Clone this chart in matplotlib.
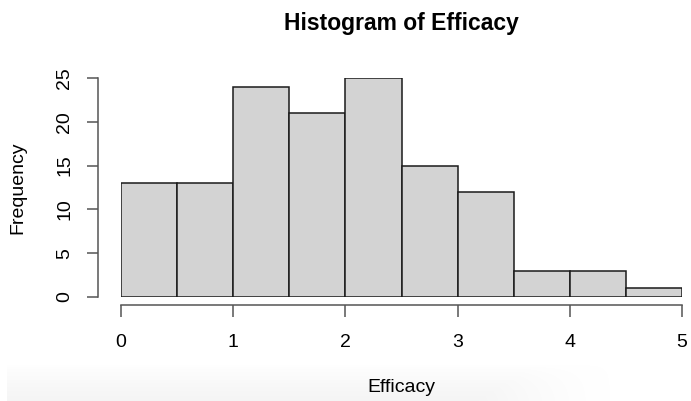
import numpy as np
import matplotlib
matplotlib.use("Agg")
import matplotlib.pyplot as plt

# histogram counts, bins of width 0.5 from 0 to 5
bin_edges = [0.0, 0.5, 1.0, 1.5, 2.0, 2.5, 3.0, 3.5, 4.0, 4.5, 5.0]
counts = [13, 13, 24, 21, 25, 15, 12, 3, 3, 1]
x_ticks = [0, 1, 2, 3, 4, 5]
y_ticks = [0, 5, 10, 15, 20, 25]

plt.rcParams.update({
    "font.family": ["Liberation Sans", "DejaVu Sans"],
    "font.size": 14,
})

W, H = 691, 401
fig = plt.figure(figsize=(W / 100, H / 100), dpi=100)

# faint grey band along the bottom edge, fading out to the right
band = fig.add_axes([7 / W, 0, 610 / W, 37 / H], zorder=0)
rows, cols = 40, 610
vert = np.linspace(0.0, 1.0, rows)[:, None] ** 0.8
xs = np.arange(cols)[None, :]
fade_start = 470 + 60 * (1 - np.linspace(0, 1, rows)[:, None])
horiz = np.clip((cols - xs) / (cols - fade_start), 0, 1) ** 1.5
img = np.zeros((rows, cols, 4))
img[..., :3] = 0.88
img[..., 3] = vert * horiz * 0.33
band.imshow(img, aspect="auto", extent=[0, 1, 0, 1], interpolation="bilinear")
band.axis("off")

ax = fig.add_axes([121 / W, (H - 297) / H, 561 / W, 219 / H], zorder=1)
ax.patch.set_alpha(0)

lefts = bin_edges[:-1]
widths = np.diff(bin_edges)
ax.bar(lefts, counts, width=widths, align="edge",
       color="#d3d3d3", edgecolor="#1a1a1a", linewidth=1.1)

ax.set_xlim(0, 5)
ax.set_ylim(0, 25)

axis_col = "#555555"
for side in ["top", "right"]:
    ax.spines[side].set_visible(False)
ax.spines["left"].set_position(("outward", 16.5))
ax.spines["bottom"].set_position(("outward", 6))
ax.spines["left"].set_bounds(0, 25)
ax.spines["bottom"].set_bounds(0, 5)
for side in ["left", "bottom"]:
    ax.spines[side].set_color(axis_col)
    ax.spines[side].set_linewidth(1.1)

ax.set_xticks(x_ticks)
ax.set_yticks(y_ticks)
ax.tick_params(axis="x", length=8.5, width=1.1, color=axis_col, pad=12, labelsize=14)
ax.tick_params(axis="y", length=8, width=1.1, color=axis_col, pad=10, labelsize=14)
for lab in ax.get_yticklabels():
    lab.set_rotation(90)
    lab.set_va("center")

ax.set_xlabel("Efficacy", fontsize=14)
ax.set_ylabel("Frequency", fontsize=14)
ax.xaxis.set_label_coords(0.5, (297 - 388) / 219)
ax.xaxis.label.set_va("center")
ax.yaxis.set_label_coords((18 - 121) / 561, 0.5)
ax.yaxis.label.set_va("center")

ax.text(0.5, (297 - 23) / 219, "Histogram of Efficacy", transform=ax.transAxes,
        ha="center", va="center", fontsize=16.5, fontweight="bold")

fig.savefig("out.png", dpi=100)
